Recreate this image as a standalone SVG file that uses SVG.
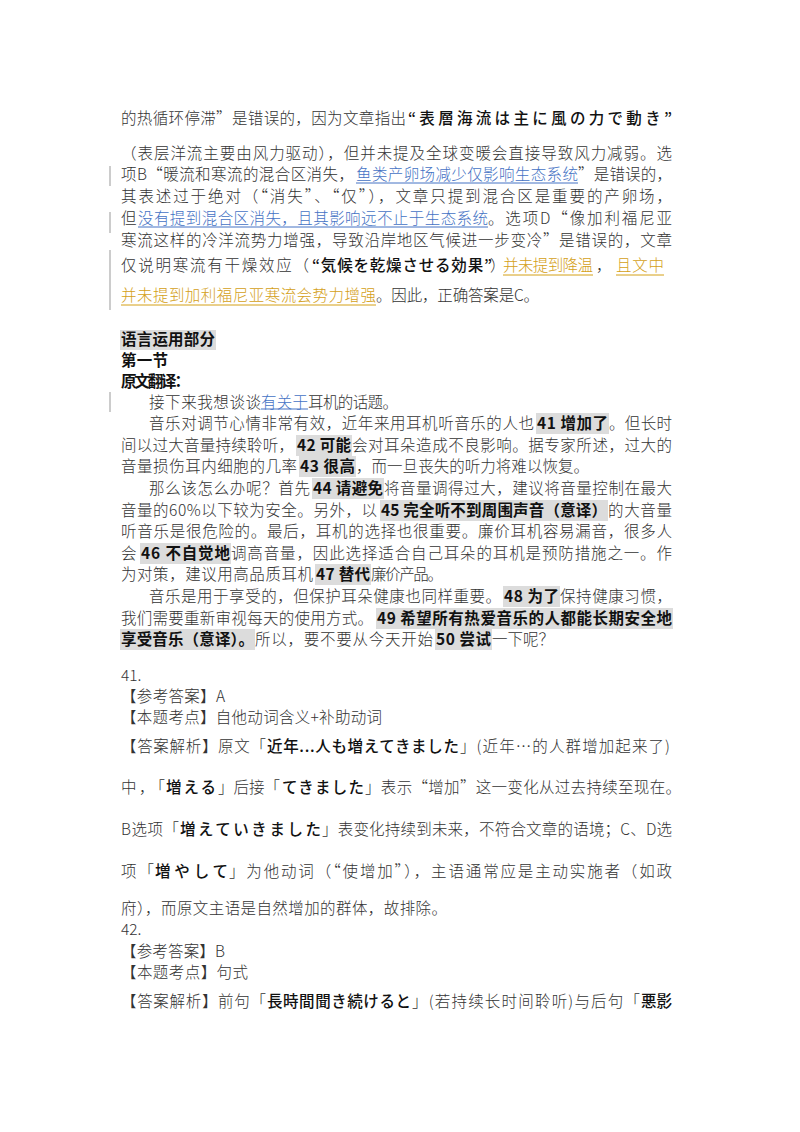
<svg xmlns="http://www.w3.org/2000/svg" width="800" height="1132" viewBox="0 0 800 1132">
<style>
text{font-family:"Noto Sans CJK SC","Noto Sans CJK JP",sans-serif;font-size:15.5px;fill:#333;font-weight:300}
.jp{font-family:"Noto Sans CJK JP","Noto Sans CJK SC",sans-serif;fill:#111;font-weight:500}
.b{font-weight:700;fill:#111}
.lk{fill:#4472c4}
.or{fill:#d4a017}
.hl{fill:#dcdcdc}
.bar{stroke:#999;stroke-width:1}
</style>
<rect width="800" height="1132" fill="#fff"/>
<g id="marks">
<line class="bar" x1="110" y1="166" x2="110" y2="186"/>
<line class="bar" x1="110" y1="212" x2="110" y2="233"/>
<line class="bar" x1="110" y1="250" x2="110" y2="310"/>
<line class="bar" x1="110" y1="392" x2="110" y2="412"/>
<rect class="hl" x="120" y="330" width="96" height="20"/>
<rect class="hl" x="536" y="413" width="73" height="21"/>
<rect class="hl" x="296" y="435" width="56" height="21"/>
<rect class="hl" x="299" y="456" width="57" height="21"/>
<rect class="hl" x="312" y="478" width="72" height="21"/>
<rect class="hl" x="380" y="500" width="228" height="21"/>
<rect class="hl" x="140" y="543" width="91" height="21"/>
<rect class="hl" x="315" y="564" width="56" height="21"/>
<rect class="hl" x="503" y="586" width="57" height="21"/>
<rect class="hl" x="376" y="608" width="297" height="21"/>
<rect class="hl" x="120" y="629" width="135" height="21"/>
<rect class="hl" x="435" y="629" width="57" height="21"/>
<line stroke="#4472c4" x1="356" y1="183" x2="578" y2="183"/>
<line stroke="#4472c4" x1="138" y1="227" x2="488" y2="227"/>
<line stroke="#d4a017" x1="503" y1="275" x2="593" y2="275"/>
<line stroke="#d4a017" x1="616" y1="275" x2="664" y2="275"/>
<line stroke="#d4a017" x1="121" y1="305" x2="376" y2="305"/>
<line stroke="#4472c4" x1="261" y1="409" x2="308" y2="409"/>
</g>
<g id="text">
<text x="121" y="124" textLength="285" lengthAdjust="spacing">的热循环停滞”是错误的，因为文章指出</text>
<text class="jp" x="408" y="124" textLength="264" lengthAdjust="spacing">“表層海流は主に風の力で動き”</text>
<text x="121" y="159" textLength="551" lengthAdjust="spacing">（表层洋流主要由风力驱动），但并未提及全球变暖会直接导致风力减弱。选</text>
<text x="121" y="180" textLength="233" lengthAdjust="spacing">项B“暖流和寒流的混合区消失，</text>
<text class="lk" x="356" y="180" textLength="222" lengthAdjust="spacing">鱼类产卵场减少仅影响生态系统</text>
<text x="578" y="180" textLength="94" lengthAdjust="spacing">”是错误的，</text>
<text x="121" y="202" textLength="551" lengthAdjust="spacing">其表述过于绝对（“消失”、“仅”），文章只提到混合区是重要的产卵场，</text>
<text x="121" y="224">但</text>
<text class="lk" x="138" y="224" textLength="350" lengthAdjust="spacing">没有提到混合区消失，且其影响远不止于生态系统</text>
<text x="488" y="224" textLength="184" lengthAdjust="spacing">。选项D“像加利福尼亚</text>
<text x="121" y="246" textLength="551" lengthAdjust="spacing">寒流这样的冷洋流势力增强，导致沿岸地区气候进一步变冷”是错误的，文章</text>
<text x="121" y="271" textLength="188" lengthAdjust="spacing">仅说明寒流有干燥效应（</text>
<text class="jp" x="312" y="271" textLength="180" lengthAdjust="spacing">“気候を乾燥させる効果”</text>
<text x="490" y="271">）</text>
<text class="or" x="503" y="271" textLength="90" lengthAdjust="spacing">并未提到降温</text>
<text x="596" y="271">，</text>
<text class="or" x="616" y="271" textLength="48" lengthAdjust="spacing">且文中</text>
<text class="or" x="121" y="301" textLength="255" lengthAdjust="spacing">并未提到加利福尼亚寒流会势力增强</text>
<text x="376" y="301" textLength="163" lengthAdjust="spacing">。因此，正确答案是C。</text>

<text class="b" x="121" y="345" textLength="94" lengthAdjust="spacing">语言运用部分</text>
<text class="b" x="121" y="366" textLength="47" lengthAdjust="spacing">第一节</text>
<text class="b" x="121" y="387" textLength="69" lengthAdjust="spacing">原文翻译：</text>
<text x="149" y="408" textLength="112" lengthAdjust="spacing">接下来我想谈谈</text>
<text class="lk" x="261" y="408" textLength="47" lengthAdjust="spacing">有关于</text>
<text x="308" y="408" textLength="90" lengthAdjust="spacing">耳机的话题。</text>
<text x="149" y="429" textLength="385" lengthAdjust="spacing">音乐对调节心情非常有效，近年来用耳机听音乐的人也</text>
<text class="b" x="537" y="429" textLength="71" lengthAdjust="spacing">41 增加了</text>
<text x="609" y="429" textLength="63" lengthAdjust="spacing">。但长时</text>
<text x="121" y="451" textLength="173" lengthAdjust="spacing">间以过大音量持续聆听，</text>
<text class="b" x="297" y="451" textLength="54" lengthAdjust="spacing">42 可能</text>
<text x="352" y="451" textLength="320" lengthAdjust="spacing">会对耳朵造成不良影响。据专家所述，过大的</text>
<text x="121" y="472" textLength="176" lengthAdjust="spacing">音量损伤耳内细胞的几率</text>
<text class="b" x="300" y="472" textLength="55" lengthAdjust="spacing">43 很高</text>
<text x="356" y="472" textLength="233" lengthAdjust="spacing">，而一旦丧失的听力将难以恢复。</text>
<text x="149" y="494" textLength="161" lengthAdjust="spacing">那么该怎么办呢？首先</text>
<text class="b" x="313" y="494" textLength="70" lengthAdjust="spacing">44 请避免</text>
<text x="384" y="494" textLength="288" lengthAdjust="spacing">将音量调得过大，建议将音量控制在最大</text>
<text x="121" y="516" textLength="256" lengthAdjust="spacing">音量的60%以下较为安全。另外，以</text>
<text class="b" x="381" y="516" textLength="226" lengthAdjust="spacing">45 完全听不到周围声音（意译）</text>
<text x="608" y="516" textLength="64" lengthAdjust="spacing">的大音量</text>
<text x="121" y="537" textLength="551" lengthAdjust="spacing">听音乐是很危险的。最后，耳机的选择也很重要。廉价耳机容易漏音，很多人</text>
<text x="121" y="559">会</text>
<text class="b" x="141" y="559" textLength="89" lengthAdjust="spacing">46 不自觉地</text>
<text x="231" y="559" textLength="441" lengthAdjust="spacing">调高音量，因此选择适合自己耳朵的耳机是预防措施之一。作</text>
<text x="121" y="580" textLength="192" lengthAdjust="spacing">为对策，建议用高品质耳机</text>
<text class="b" x="316" y="580" textLength="54" lengthAdjust="spacing">47 替代</text>
<text x="371" y="580" textLength="72" lengthAdjust="spacing">廉价产品。</text>
<text x="149" y="602" textLength="352" lengthAdjust="spacing">音乐是用于享受的，但保护耳朵健康也同样重要。</text>
<text class="b" x="504" y="602" textLength="55" lengthAdjust="spacing">48 为了</text>
<text x="560" y="602" textLength="112" lengthAdjust="spacing">保持健康习惯，</text>
<text x="121" y="624" textLength="252" lengthAdjust="spacing">我们需要重新审视每天的使用方式。</text>
<text class="b" x="377" y="624" textLength="295" lengthAdjust="spacing">49 希望所有热爱音乐的人都能长期安全地</text>
<text class="b" x="121" y="645" textLength="133" lengthAdjust="spacing">享受音乐（意译）。</text>
<text x="255" y="645" textLength="178" lengthAdjust="spacing">所以，要不要从今天开始</text>
<text class="b" x="436" y="645" textLength="55" lengthAdjust="spacing">50 尝试</text>
<text x="492" y="645" textLength="62" lengthAdjust="spacing">一下呢？</text>

<text x="121" y="681">41.</text>
<text x="121" y="702" textLength="104" lengthAdjust="spacing">【参考答案】A</text>
<text x="121" y="723" textLength="261" lengthAdjust="spacing">【本题考点】自他动词含义+补助动词</text>
<text x="121" y="752" textLength="145" lengthAdjust="spacing">【答案解析】原文「</text>
<text class="jp" x="267" y="752" textLength="192" lengthAdjust="spacing">近年...人も増えてきました</text>
<text x="460" y="752" textLength="210" lengthAdjust="spacing">」(近年…的人群增加起来了)</text>
<text x="121" y="793" textLength="44" lengthAdjust="spacing">中，「</text>
<text class="jp" x="166" y="793" textLength="50" lengthAdjust="spacing">増える</text>
<text x="218" y="793" textLength="62" lengthAdjust="spacing">」后接「</text>
<text class="jp" x="282" y="793" textLength="82" lengthAdjust="spacing">てきました</text>
<text x="365" y="793" textLength="316" lengthAdjust="spacing">」表示“增加”这一变化从过去持续至现在。</text>
<text x="121" y="835" textLength="58" lengthAdjust="spacing">B选项「</text>
<text class="jp" x="180" y="835" textLength="141" lengthAdjust="spacing">増えていきました</text>
<text x="322" y="835" textLength="350" lengthAdjust="spacing">」表变化持续到未来，不符合文章的语境；C、D选</text>
<text x="121" y="877" textLength="33" lengthAdjust="spacing">项「</text>
<text class="jp" x="155" y="877" textLength="73" lengthAdjust="spacing">増やして</text>
<text x="229" y="877" textLength="443" lengthAdjust="spacing">」为他动词（“使增加”），主语通常应是主动实施者（如政</text>
<text x="121" y="914" textLength="326" lengthAdjust="spacing">府），而原文主语是自然增加的群体，故排除。</text>
<text x="121" y="935">42.</text>
<text x="121" y="957" textLength="104" lengthAdjust="spacing">【参考答案】B</text>
<text x="121" y="978" textLength="127" lengthAdjust="spacing">【本题考点】句式</text>
<text x="121" y="1007" textLength="145" lengthAdjust="spacing">【答案解析】前句「</text>
<text class="jp" x="267" y="1007" textLength="144" lengthAdjust="spacing">長時間聞き続けると</text>
<text x="412" y="1007" textLength="228" lengthAdjust="spacing">」(若持续长时间聆听)与后句「</text>
<text class="jp" x="641" y="1007" textLength="31" lengthAdjust="spacing">悪影</text>
</g>
</svg>
